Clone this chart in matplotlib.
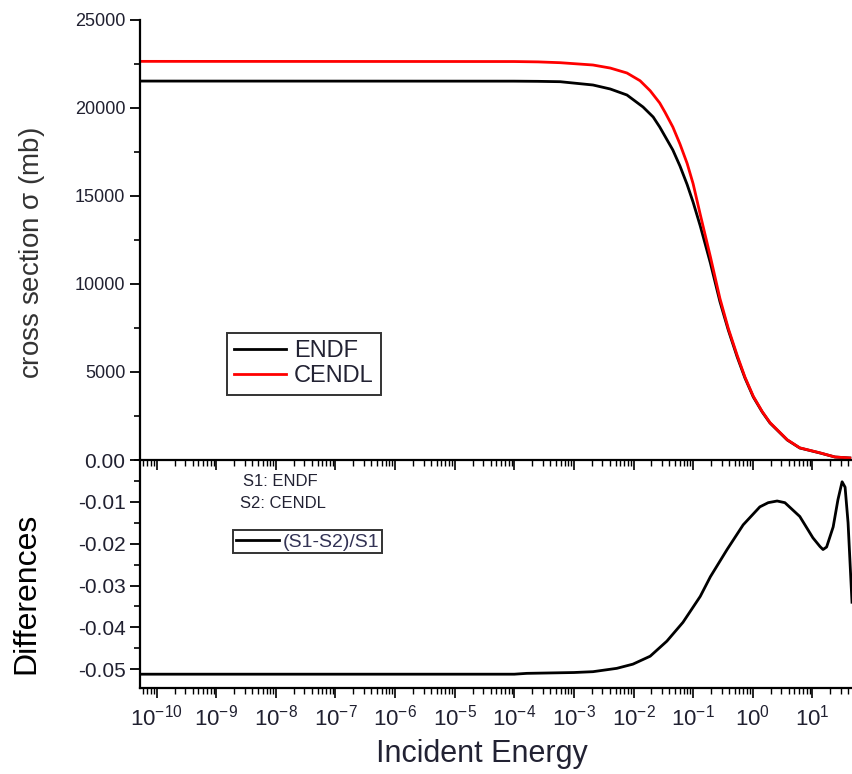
import matplotlib
matplotlib.use("Agg")
import matplotlib.pyplot as plt
import numpy as np
from matplotlib.ticker import MultipleLocator, LogLocator, NullFormatter, FixedLocator

plt.rcParams['font.family'] = ['Liberation Sans', 'DejaVu Sans']
plt.rcParams['mathtext.default'] = 'regular'
plt.rcParams['axes.unicode_minus'] = False

# cross section data (log10 of incident energy)
log_e_endf = [-10.28, -4.0, -3.6, -3.23, -2.68, -2.39, -2.11, -1.84, -1.67, -1.56,
              -1.34, -1.22, -1.10, -1.0, -0.88, -0.71, -0.55, -0.41, -0.26, -0.13,
              0.01, 0.16, 0.29, 0.58, 0.79, 1.13, 1.38, 1.63]
endf = [21530, 21525, 21515, 21494, 21307, 21080, 20739, 20057, 19489, 18920,
        17614, 16700, 15650, 14650, 13300, 11190, 9000, 7386, 5852, 4659,
        3580, 2727, 2102, 1136, 682, 398, 170, 114]

log_e_cendl = [-10.28, -4.0, -3.6, -3.23, -2.68, -2.39, -2.11, -1.89, -1.72, -1.56,
               -1.47, -1.34, -1.22, -1.10, -1.0, -0.88, -0.71, -0.55, -0.41, -0.26,
               -0.13, 0.01, 0.16, 0.29, 0.58, 0.79, 1.13, 1.38, 1.63]
cendl = [22650, 22640, 22620, 22574, 22443, 22270, 21989, 21550, 20980, 20284,
         19750, 18920, 17950, 16850, 15700, 13950, 11550, 9180, 7480, 5940,
         4710, 3620, 2750, 2125, 1150, 690, 405, 172, 115]

# relative difference (S1-S2)/S1
log_e_diff = [-10.28, -4.0, -3.79, -3.0, -2.68, -2.28, -2.01, -1.72, -1.44, -1.17,
              -0.88, -0.71, -0.43, -0.16, 0.12, 0.26, 0.41, 0.54, 0.79, 1.01,
              1.13, 1.18, 1.24, 1.35, 1.43, 1.50, 1.55, 1.60, 1.666]
diff = [-0.0512, -0.0512, -0.0510, -0.0508, -0.0506, -0.0498, -0.0488, -0.0469,
        -0.0433, -0.0388, -0.0326, -0.0279, -0.0214, -0.0155, -0.0112, -0.0102,
        -0.0098, -0.0102, -0.0135, -0.0186, -0.0207, -0.0214, -0.0208, -0.0160,
        -0.0095, -0.0052, -0.0065, -0.0150, -0.0340]

e_endf = 10.0 ** np.array(log_e_endf)
e_cendl = 10.0 ** np.array(log_e_cendl)
e_diff = 10.0 ** np.array(log_e_diff)

txt = '#202030'
fig = plt.figure(figsize=(8.52, 7.74), dpi=100)
ax1 = fig.add_axes([140/852, 1-460/774, 712/852, 440/774])
ax2 = fig.add_axes([140/852, 1-688/774, 712/852, 228/774])
ax2.patch.set_visible(False)

xlim = (10**-10.28, 10**1.666)

# top panel
ax1.plot(e_endf, endf, 'k-', lw=2.0, label='ENDF')
ax1.plot(e_cendl, cendl, '-', color='#ff0000', lw=2.0, label='CENDL')
ax1.set_xscale('log')
ax1.set_xlim(*xlim)
ax1.set_ylim(0, 25000)
ax1.yaxis.set_major_locator(FixedLocator([5000, 10000, 15000, 20000, 25000]))
ax1.yaxis.set_minor_locator(MultipleLocator(2500))
ax1.xaxis.set_major_locator(LogLocator(base=10, numticks=30))
ax1.xaxis.set_minor_locator(LogLocator(base=10, subs=np.arange(2, 10), numticks=30))
ax1.xaxis.set_major_formatter(NullFormatter())
ax1.xaxis.set_minor_formatter(NullFormatter())
for s in ['top', 'right']:
    ax1.spines[s].set_visible(False)
ax1.spines['left'].set_linewidth(1.6)
ax1.spines['bottom'].set_linewidth(1.6)
ax1.tick_params(axis='y', which='major', direction='out', length=7, width=1.3,
                labelsize=13, labelcolor=txt)
ax1.tick_params(axis='y', which='minor', direction='out', length=4, width=1.2)
ax1.tick_params(axis='x', which='major', direction='out', length=7, width=1.2)
ax1.tick_params(axis='x', which='minor', direction='out', length=4, width=1.0)
ax1.set_ylabel(r'cross section $\sigma$ (mb)', fontsize=20, color='#333333')
ax1.yaxis.set_label_coords(-0.131, 0.47)
leg1 = ax1.legend(loc='upper left', bbox_to_anchor=(0.122, 0.289), fontsize=17,
                  frameon=True, fancybox=False, handlelength=2.2, handletextpad=0.35,
                  borderpad=0.3, labelspacing=0.15, borderaxespad=0)
leg1.get_frame().set_edgecolor('k')
leg1.get_frame().set_linewidth(1.4)
for t in leg1.get_texts():
    t.set_color('#222233')

# bottom panel
ax2.plot(e_diff, diff, 'k-', lw=2.0, label='(S1-S2)/S1')
ax2.set_xscale('log')
ax2.set_xlim(*xlim)
ax2.set_ylim(-0.0545, 0.0)
ax2.yaxis.set_major_locator(MultipleLocator(0.01))
ax2.yaxis.set_minor_locator(MultipleLocator(0.005))
ax2.yaxis.set_major_formatter(lambda v, p: '%.2f' % v if abs(v) > 1e-9 else '0.00')
ax2.xaxis.set_major_locator(LogLocator(base=10, numticks=30))
ax2.xaxis.set_minor_locator(LogLocator(base=10, subs=np.arange(2, 10), numticks=30))
ax2.xaxis.set_minor_formatter(NullFormatter())
for s in ['top', 'right']:
    ax2.spines[s].set_visible(False)
ax2.spines['left'].set_linewidth(1.6)
ax2.spines['bottom'].set_linewidth(1.6)
ax2.tick_params(axis='y', which='major', direction='out', length=7, width=1.3,
                labelsize=15, labelcolor=txt)
ax2.tick_params(axis='y', which='minor', direction='out', length=4, width=1.2)
ax2.tick_params(axis='x', which='major', direction='out', length=7, width=1.2,
                labelsize=16, labelcolor=txt, pad=5)
ax2.tick_params(axis='x', which='minor', direction='out', length=4, width=1.0)
ax2.set_ylabel('Differences', fontsize=23, color='k')
ax2.yaxis.set_label_coords(-0.138, 0.417)
ax2.set_xlabel('Incident Energy', fontsize=22, color='#222233')
ax2.xaxis.set_label_coords(0.48, -0.225)
ax2.text(0.145, 0.904, 'S1: ENDF', transform=ax2.transAxes, fontsize=12, color='#222233',
         va='center')
ax2.text(0.140, 0.811, 'S2: CENDL', transform=ax2.transAxes, fontsize=12, color='#222233',
         va='center')
leg2 = ax2.legend(loc='upper left', bbox_to_anchor=(0.131, 0.693), fontsize=14,
                  frameon=True, fancybox=False, handlelength=2.2, handletextpad=0.2,
                  borderpad=0.15, borderaxespad=0)
leg2.get_frame().set_edgecolor('k')
leg2.get_frame().set_linewidth(1.4)
for t in leg2.get_texts():
    t.set_color('#333355')

fig.savefig('out.png', dpi=100)
